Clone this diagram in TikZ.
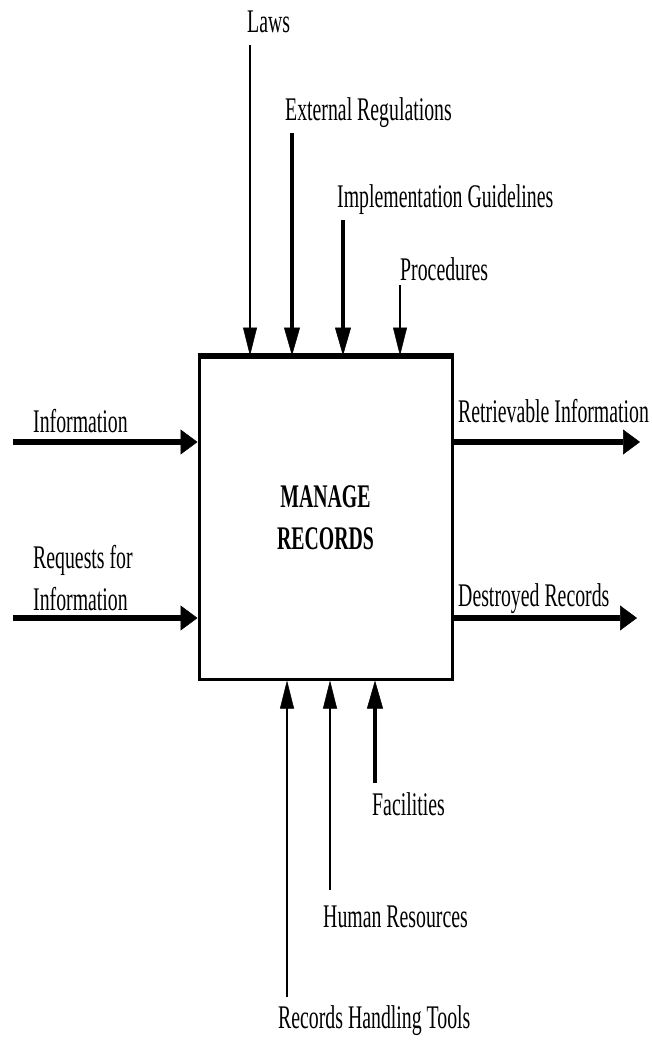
\documentclass[tikz,border=0pt]{standalone}
\usepackage{fontspec}
\setmainfont[FakeStretch=0.6]{Liberation Serif}
\usetikzlibrary{arrows.meta,calc}
\begin{document}
\begin{tikzpicture}[x=1pt,y=-1pt,
  lbl/.style={anchor=base west,inner sep=0pt,font=\fontsize{33}{42}\selectfont},
  thinarr/.style={line width=1.3pt,-{Triangle[length=28pt,width=14pt,line width=0.5pt]}},
  thickarr/.style={line width=4pt,-{Triangle[length=28pt,width=16pt,line width=0.5pt]}},
  harr/.style={line width=5.5pt,-{Triangle[length=17pt,width=25pt,line width=0.5pt]}},
  procbox/.style={draw,line width=3pt,minimum width=253pt,minimum height=322pt,inner sep=0pt,align=center,font=\bfseries\fontsize{33}{42}\selectfont}
]
\useasboundingbox (0,0) rectangle (652,1040);

% process box
\node[procbox] (box) at (325.5,518) {MANAGE\\RECORDS};
\draw[line width=5pt] (box.north west) -- (box.north east);

% labels
\node[lbl] (laws) at (247,33) {Laws};
\node[lbl] (extreg) at (285,121) {External Regulations};
\node[lbl] (impl) at (337,208) {Implementation Guidelines};
\node[lbl] (proc) at (400,280) {Procedures};
\node[lbl] (info) at (33,432) {Information};
\node[lbl,align=left] (req) at (33,610) {Requests for\\Information};
\node[lbl] (retr) at (458,422) {Retrievable Information};
\node[lbl] (destr) at (458,606) {Destroyed Records};
\node[lbl] (fac) at (372,815) {Facilities};
\node[lbl] (hr) at (323,927) {Human Resources};
\node[lbl] (rht) at (278,1028) {Records Handling Tools};

% free ends
\coordinate (cLaws) at (250,45);
\coordinate (cExt) at (292,133);
\coordinate (cImpl) at (343,220);
\coordinate (cProc) at (400,285);
\coordinate (cInfo) at (13,442);
\coordinate (cReq) at (13,618);
\coordinate (cRetr) at (640,442);
\coordinate (cDestr) at (637,618);
\coordinate (cFac) at (375,783);
\coordinate (cHR) at (330,890);
\coordinate (cRHT) at (287,997);

% controls
\draw[thinarr] (cLaws) -- (cLaws |- box.north);
\draw[thickarr] (cExt) -- (cExt |- box.north);
\draw[thickarr] (cImpl) -- (cImpl |- box.north);
\draw[thinarr] (cProc) -- (cProc |- box.north);

% inputs
\draw[harr] (cInfo) -- (cInfo -| box.west);
\draw[harr] (cReq) -- (cReq -| box.west);

% outputs
\draw[harr] (box.east |- cRetr) -- (cRetr);
\draw[harr] (box.east |- cDestr) -- (cDestr);

% mechanisms
\draw[thickarr] (cFac) -- (cFac |- box.south);
\draw[thinarr] (cHR) -- (cHR |- box.south);
\draw[thinarr] (cRHT) -- (cRHT |- box.south);
\end{tikzpicture}
\end{document}
